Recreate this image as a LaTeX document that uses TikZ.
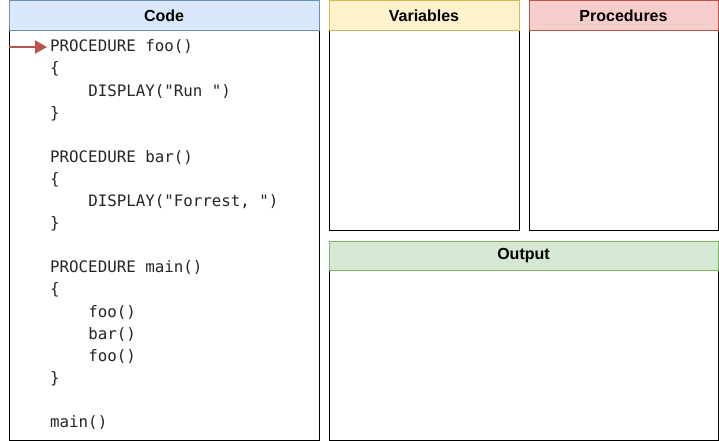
\documentclass[tikz,border=0pt]{standalone}
\usepackage{fontspec}
\setmainfont{Liberation Sans}
\newfontfamily\codefont{DejaVu Sans Mono}
\usetikzlibrary{arrows.meta}
\definecolor{bluef}{HTML}{DAE8FC}\definecolor{blues}{HTML}{6C8EBF}
\definecolor{yelf}{HTML}{FFF2CC}\definecolor{yels}{HTML}{D6B656}
\definecolor{redf}{HTML}{F8CECC}\definecolor{reds}{HTML}{B85450}
\definecolor{grnf}{HTML}{D5E8D4}\definecolor{grns}{HTML}{82B366}
\tikzset{
  body/.style={draw=black, fill=white, line width=1pt},
  hdr/.style={line width=1pt, font=\fontsize{16}{18}\selectfont\bfseries},
  codeline/.style={anchor=west, inner sep=0pt, text=black!85, font=\codefont\fontsize{15.8}{17}\selectfont},
}
\begin{document}
\begin{tikzpicture}[x=1pt,y=-1pt]
\useasboundingbox (0,0) rectangle (719,441);
% Code
\draw[body] (9,31) rectangle (319,440);
\draw[hdr, fill=bluef, draw=blues] (9,1) rectangle (319,31);
\node[hdr] (codeh) at (164,16) {Code};
% Variables
\draw[body] (329,31) rectangle (519,230);
\draw[hdr, fill=yelf, draw=yels] (329,1) rectangle (519,31);
\node[hdr] (varh) at (424,16) {Variables};
% Procedures
\draw[body] (529,31) rectangle (718,230);
\draw[hdr, fill=redf, draw=reds] (529,1) rectangle (718,31);
\node[hdr] (proch) at (623.5,16) {Procedures};
% Output
\draw[body] (329,270) rectangle (718,440);
\draw[hdr, fill=grnf, draw=grns] (329,241) rectangle (718,270);
\node[hdr] (outh) at (523.5,255.5) {Output};
% code lines
\node[codeline] (l1) at (50,47) {PROCEDURE foo()};
\node[codeline] (l2) at (50,69.1) {\{};
\node[codeline] (l3) at (50,91.2) {\ \ \ \ DISPLAY("Run ")};
\node[codeline] (l4) at (50,113.3) {\}};
\node[codeline] (l6) at (50,157.5) {PROCEDURE bar()};
\node[codeline] (l7) at (50,179.6) {\{};
\node[codeline] (l8) at (50,201.7) {\ \ \ \ DISPLAY("Forrest, ")};
\node[codeline] (l9) at (50,223.8) {\}};
\node[codeline] (l11) at (50,268) {PROCEDURE main()};
\node[codeline] (l12) at (50,290.1) {\{};
\node[codeline] (l13) at (50,312.2) {\ \ \ \ foo()};
\node[codeline] (l14) at (50,334.3) {\ \ \ \ bar()};
\node[codeline] (l15) at (50,356.4) {\ \ \ \ foo()};
\node[codeline] (l16) at (50,378.5) {\}};
\node[codeline] (l18) at (50,422.7) {main()};
% arrow
\coordinate (as) at (9,47);
\draw[draw=reds, line width=2pt, -{Triangle[length=12pt,width=13pt]}] (as) -- ([xshift=-3pt]l1.west);
\end{tikzpicture}
\end{document}
